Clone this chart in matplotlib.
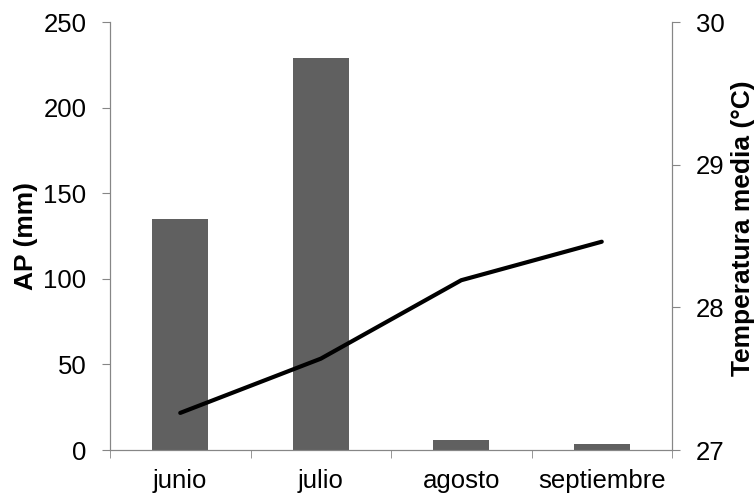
import matplotlib
matplotlib.use("Agg")
import matplotlib.pyplot as plt
import numpy as np

plt.rcParams['font.family'] = ['Liberation Sans', 'DejaVu Sans']

months = ["junio", "julio", "agosto", "septiembre"]
ap_mm = [135, 229, 5.7, 3.3]
temp_media = [27.26, 27.64, 28.19, 28.46]

W, H = 755, 497
L, R, T, B = 110, 672, 22, 450
fig = plt.figure(figsize=(W/100, H/100), dpi=100)
ax = fig.add_axes([L/W, 1-B/H, (R-L)/W, (B-T)/H])
x = np.arange(len(months))
gray = "#868686"
fs = 18.5

ax.bar(x, ap_mm, width=0.4, color="#606060", zorder=2)
ax.set_xlim(-0.5, len(months)-0.5)
ax.set_ylim(0, 250)
ax.set_yticks([0, 50, 100, 150, 200, 250])
ax.set_xticks(x)
ax.set_xticklabels(months)
ax.tick_params(axis='x', which='major', length=0, pad=14, labelsize=fs)
ax.set_xticks(np.arange(-0.5, len(months)), minor=True)
ax.tick_params(axis='x', which='minor', length=6, color=gray, direction='out')
ax.tick_params(axis='y', length=6, color=gray, direction='out', labelsize=fs, pad=11)
for s in ['left', 'bottom', 'right']:
    ax.spines[s].set_color(gray)
ax.spines['top'].set_visible(False)
ax.set_ylabel("AP (mm)", fontsize=19, fontweight='bold')
ax.yaxis.set_label_coords(-(L-38)/(R-L), 0.5)

ax2 = ax.twinx()
ax2.plot(x, temp_media, color="black", lw=3.0, solid_capstyle='round', solid_joinstyle='round', zorder=3)
ax2.set_ylim(27, 30)
ax2.set_yticks([27, 28, 29, 30])
ax2.tick_params(axis='y', length=6, color=gray, direction='out', labelsize=fs, pad=11)
for s in ['left', 'bottom', 'right']:
    ax2.spines[s].set_color(gray)
ax2.spines['top'].set_visible(False)
ax2.set_ylabel("Temperatura media (°C)", fontsize=19, fontweight='bold')
ax2.yaxis.set_label_coords((731-L)/(R-L), (B-228)/(B-T))

fig.savefig("out.png", dpi=100)
